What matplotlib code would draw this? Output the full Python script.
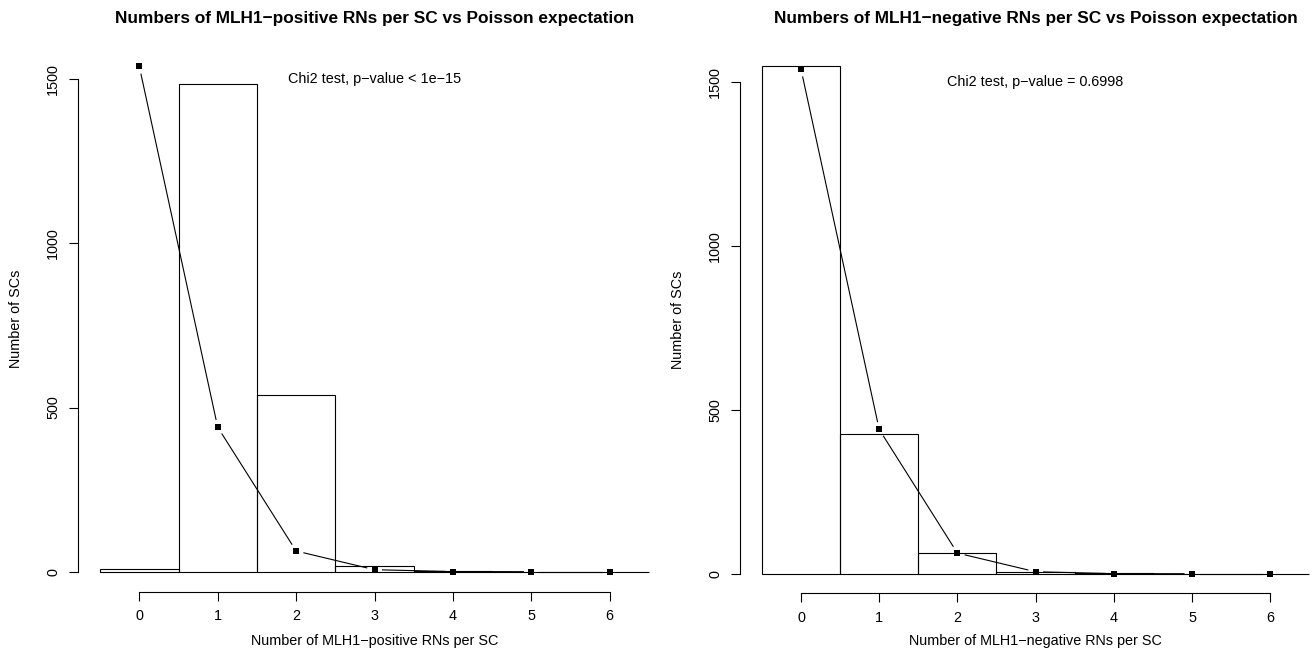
import matplotlib
matplotlib.use('Agg')
import matplotlib.pyplot as plt
import numpy as np

plt.rcParams['font.family'] = ['Liberation Sans', 'DejaVu Sans']

W, H = 1313, 666

# data
counts = [0, 1, 2, 3, 4, 5, 6]
pos_observed = [7, 1484, 537, 18, 2, 0, 0]
pos_expected = [1539, 440, 63, 6, 0.4, 0, 0]
neg_observed = [1549, 427, 63, 6, 2, 0.5, 0]
neg_expected = [1539, 440, 63, 6, 0.4, 0, 0]
y_ticks = [0, 500, 1000, 1500]

titles = ['Numbers of MLH1\u2212positive RNs per SC vs Poisson expectation',
          'Numbers of MLH1\u2212negative RNs per SC vs Poisson expectation']
xlabels = ['Number of MLH1\u2212positive RNs per SC',
           'Number of MLH1\u2212negative RNs per SC']
chi_texts = ['Chi2 test, p\u2212value < 1e\u221215',
             'Chi2 test, p\u2212value = 0.6998']

FS = 10.4
FS_TITLE = 12.4


def linea_tipo_b(ax, x, y, gap=8):
    # R type="b": segments that stop short of each point
    pts = ax.transData.transform(np.column_stack([x, y]))
    for p0, p1 in zip(pts[:-1], pts[1:]):
        d = p1 - p0
        largo = np.hypot(*d)
        if largo <= 2 * gap:
            continue
        u = d / largo
        a = ax.transData.inverted().transform(p0 + u * gap)
        b = ax.transData.inverted().transform(p1 - u * gap)
        ax.plot([a[0], b[0]], [a[1], b[1]], color='black', lw=0.8)


def panel(rect_px, xlim, ylim, observed, expected, title, xlabel, chi_text, ylab_x):
    left, right, top, bottom = rect_px
    ax = fig.add_axes([left / W, 1 - bottom / H, (right - left) / W, (bottom - top) / H])
    ax.set_xlim(*xlim)
    ax.set_ylim(*ylim)
    ax.patch.set_alpha(0)

    ax.bar(counts, observed, width=1, fill=False, edgecolor='black', linewidth=0.8)
    linea_tipo_b(ax, counts, expected)
    ax.plot(counts, expected, 's', color='black', ms=4.8, mew=0)

    ax.text(3, 1500, chi_text, ha='center', va='center', fontsize=FS)

    for s in ['top', 'right']:
        ax.spines[s].set_visible(False)
    ax.spines['left'].set_bounds(0, 1500)
    ax.spines['bottom'].set_bounds(0, 6)
    for s in ['left', 'bottom']:
        ax.spines[s].set_linewidth(0.8)
    ax.set_xticks(counts)
    ax.set_yticks(y_ticks)
    ax.tick_params(length=6.5, width=0.8, labelsize=FS, pad=6.2)
    ax.tick_params(axis='y', pad=6.3)
    for lab in ax.get_yticklabels():
        lab.set_rotation(90)
        lab.set_va('center')

    cx = (left + right) / 2
    fig.text(cx / W, 1 - 18.5 / H, title, ha='center', va='center',
             fontsize=FS_TITLE, fontweight='bold')
    fig.text(cx / W, 1 - 641 / H, xlabel, ha='center', va='center', fontsize=FS)
    fig.text(ylab_x / W, 1 - (top + bottom) / 2 / H, 'Number of SCs', ha='center',
             va='center', rotation=90, fontsize=FS)
    return ax


fig = plt.figure(figsize=(W / 100, H / 100), dpi=100)

panel((78.15, 670.9, 46.4, 591.7), (-0.78, 6.78), (-61, 1600),
      pos_observed, pos_expected, titles[0], xlabels[0], chi_texts[0], 16)
panel((740.0, 1331.2, 45.5, 593.4), (-0.78, 6.78), (-60, 1611),
      neg_observed, neg_expected, titles[1], xlabels[1], chi_texts[1], 678)

fig.savefig('out.png', dpi=100)
